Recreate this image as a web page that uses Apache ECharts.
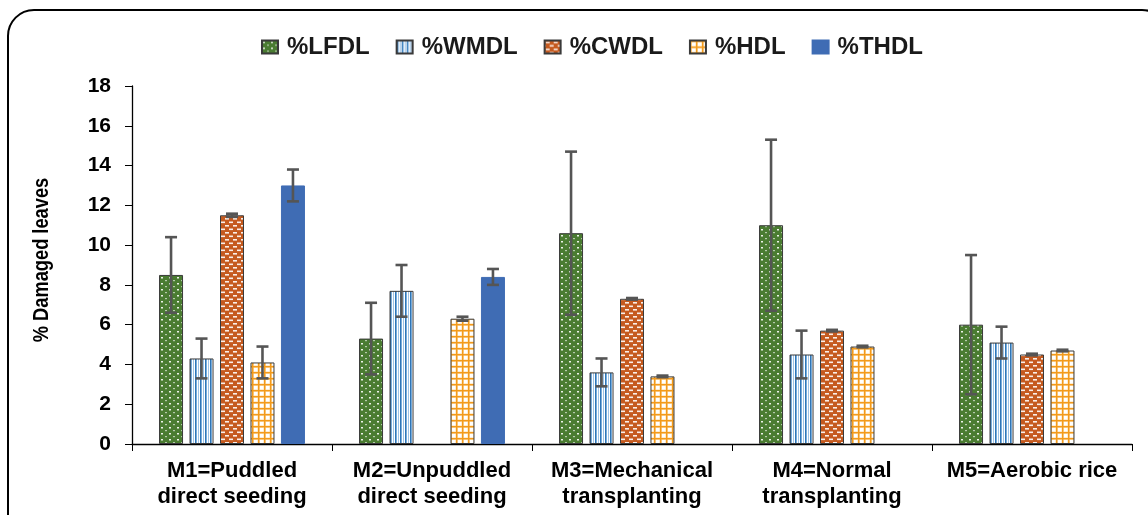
<!DOCTYPE html>
<html><head><meta charset="utf-8">
<script src="https://cdn.jsdelivr.net/npm/echarts@6/dist/echarts.min.js"></script>
<style>html,body{margin:0;padding:0;background:#fff}#c{width:1148px;height:515px}</style>
</head><body><div id="c"></div>
<script>
const categories = ['M1=Puddled\ndirect seeding','M2=Unpuddled\ndirect seeding','M3=Mechanical\ntransplanting','M4=Normal\ntransplanting','M5=Aerobic rice'];
const seriesNames = ['%LFDL','%WMDL','%CWDL','%HDL','%THDL'];
const LFDL = [8.5, 5.3, 10.6, 11.0, 6.0];
const WMDL = [4.3, 7.7, 3.6, 4.5, 5.1];
const CWDL = [11.5, null, 7.3, 5.7, 4.5];
const HDL  = [4.1, 6.3, 3.4, 4.9, 4.7];
const THDL = [13.0, 8.4, null, null, null];
const LFDL_err = [1.9, 1.8, 4.1, 4.3, 3.5];
const WMDL_err = [1.0, 1.3, 0.7, 1.2, 0.8];
const CWDL_err = [0.08, null, 0.04, 0.04, 0.04];
const HDL_err  = [0.8, 0.1, 0.04, 0.04, 0.04];
const THDL_err = [0.8, 0.4, null, null, null];
const yTicks = [0,2,4,6,8,10,12,14,16,18];
const yTitle = '% Damaged leaves';

const values = [LFDL, WMDL, CWDL, HDL, THDL];
const errors = [LFDL_err, WMDL_err, CWDL_err, HDL_err, THDL_err];

function tile(w, h, draw) {
  const c = document.createElement('canvas'); c.width = w; c.height = h;
  draw(c.getContext('2d')); return c;
}
const patLF = tile(8, 6, g => { g.fillStyle = '#4a7c31'; g.fillRect(0,0,8,6);
  g.fillStyle = 'rgba(255,255,255,0.9)'; g.fillRect(1,1,2,1.5); g.fillStyle='rgba(255,255,255,0.6)'; g.fillRect(5,4,2,1.2); });
const patWM = tile(5, 4, g => { g.fillStyle = '#ffffff'; g.fillRect(0,0,5,4);
  g.fillStyle = '#2e75b6'; g.fillRect(0,0,1.3,4); g.fillStyle = '#5b9bd5'; g.fillRect(1.3,0,0.7,4);
  g.fillStyle = '#9dc3e6'; g.fillRect(3,0,1,4); });
const patCW = tile(8, 7, g => { g.fillStyle = '#c55a1f'; g.fillRect(0,0,8,7);
  g.fillStyle = 'rgba(255,255,255,0.9)'; g.fillRect(1,1,4,1.6); g.fillRect(5,4.5,4,1.6); g.fillRect(-3,4.5,4,1.6); });
const patHD = tile(6, 6, g => { g.fillStyle = '#ffffff'; g.fillRect(0,0,6,6);
  g.fillStyle = '#fbd9a3'; g.fillRect(1.5,1.5,4.5,4.5);
  g.fillStyle = '#ffffff'; g.fillRect(2,2,3.5,3.5);
  g.fillStyle = '#f39a1b'; g.fillRect(0,0,6,1.5); g.fillRect(0,0,1.5,6); });
const fills = [
  {image: patLF, repeat: 'repeat'},
  {image: patWM, repeat: 'repeat'},
  {image: patCW, repeat: 'repeat'},
  {image: patHD, repeat: 'repeat'},
  '#3f6cb4'
];
const BAR_W = 24, GAP_PCT = 27;
const step = BAR_W * (1 + GAP_PCT / 100);

const FONT = "'Liberation Sans', Arial, sans-serif";

const barSeries = seriesNames.map((n, i) => ({
  name: n, type: 'bar', barWidth: BAR_W, barGap: GAP_PCT + '%',
  data: values[i],
  itemStyle: { color: fills[i], borderColor: i === 4 ? '#3f6cb4' : '#3a3a3a', borderWidth: 1 }
}));

const errData = [];
values.forEach((arr, si) => arr.forEach((v, ci) => {
  if (v != null && errors[si][ci] != null) errData.push([ci, v, errors[si][ci], si]);
}));

const errSeries = {
  type: 'custom', name: 'err', silent: true, z: 10,
  data: errData,
  encode: { x: 0, y: 1 },
  renderItem: function (params, api) {
    const ci = api.value(0), v = api.value(1), e = api.value(2), si = api.value(3);
    const off = (si - 2) * step;
    const top = api.coord([ci, v + e]);
    const bot = api.coord([ci, v - e]);
    const x = top[0] + off;
    const cap = 6;
    const st = { stroke: '#555555', lineWidth: 2.6 };
    return { type: 'group', children: [
      { type: 'line', shape: { x1: x, y1: top[1], x2: x, y2: bot[1] }, style: st },
      { type: 'line', shape: { x1: x - cap, y1: top[1], x2: x + cap, y2: top[1] }, style: st },
      { type: 'line', shape: { x1: x - cap, y1: bot[1], x2: x + cap, y2: bot[1] }, style: st }
    ]};
  }
};

const chart = echarts.init(document.getElementById('c'), null, { renderer: 'canvas' });
chart.setOption({
  animation: false,
  backgroundColor: '#fff',
  graphic: [
    { type: 'rect', z: -1, silent: true,
      shape: { x: 8, y: 10, width: 1160, height: 545, r: 26 },
      style: { fill: 'none', stroke: '#000', lineWidth: 2 } },
    { type: 'text', silent: true, x: 42, y: 260, rotation: Math.PI / 2,
      style: { text: yTitle, fontFamily: "'Liberation Sans Narrow', 'Arial Narrow', sans-serif", fontWeight: 'bold',
        fontSize: 22, fill: '#000', align: 'center', verticalAlign: 'middle' },
      scaleX: 0.83 }
  ],
  legend: {
    data: seriesNames, top: 30, left: 256, itemWidth: 16, itemHeight: 13, itemGap: 26,
    icon: 'rect',
    textStyle: { fontFamily: FONT, fontWeight: 'bold', fontSize: 24, color: '#1a1a1a', padding: [0,0,0,4] }
  },
  grid: { left: 132, right: 16, top: 86, bottom: 71, containLabel: false },
  xAxis: {
    type: 'category', data: categories,
    axisLine: { lineStyle: { color: '#000', width: 1.3 } },
    axisTick: { show: true, length: 7, lineStyle: { color: '#000' } },
    axisLabel: { fontFamily: FONT, fontWeight: 'bold', fontSize: 22, color: '#000', margin: 14, lineHeight: 26, interval: 0 }
  },
  yAxis: {
    type: 'value', min: 0, max: 18, interval: 2,
    axisLine: { show: true, lineStyle: { color: '#000', width: 1.3 } },
    axisTick: { show: true, length: 7, lineStyle: { color: '#000' } },
    splitLine: { show: false },
    axisLabel: { fontFamily: FONT, fontWeight: 'bold', fontSize: 21, color: '#000', margin: 21,
      formatter: v => yTicks.includes(v) ? String(v) : '' }
  },
  series: barSeries.concat([errSeries])
});
</script></body></html>
